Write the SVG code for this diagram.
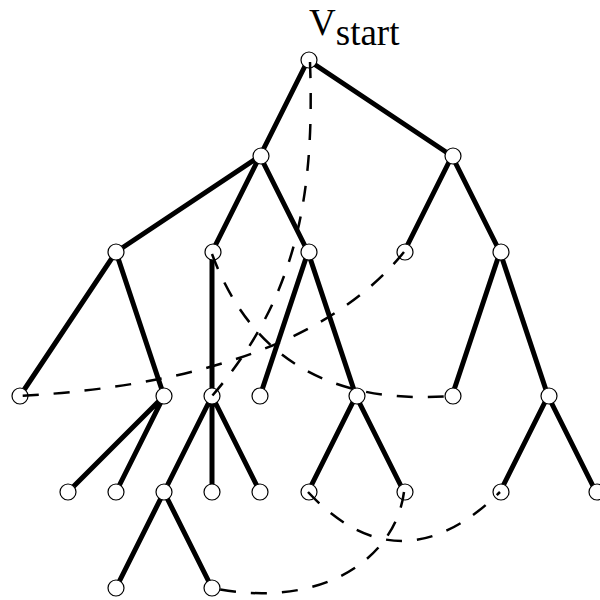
<svg xmlns="http://www.w3.org/2000/svg" width="600" height="600" viewBox="0 0 600 600">
<style>
.e{stroke:#000;stroke-width:5;fill:none;stroke-linecap:butt}
.d{stroke:#000;stroke-width:2.5;fill:none;stroke-dasharray:16 15}
.n{fill:#fff;stroke:#000;stroke-width:1.2}
.t{font-family:"Liberation Serif","Times New Roman",serif;font-size:37px;fill:#000}
</style>
<rect width="600" height="600" fill="#fff"/>
<text class="t" x="309" y="35">V<tspan dy="10">start</tspan></text>
<g id="edges">
<path class="e" d="M308,60L260,156M308,60L452,156M260,156L116,252M260,156L212,252M260,156L308,252M452,156L404,252M452,156L500,252M116,252L20,396M116,252L164,396M212,252L212,396M308,252L260,396M308,252L356,396M500,252L452,396M500,252L548,396M164,396L68,492M164,396L116,492M212,396L164,492M212,396L212,492M212,396L260,492M356,396L308,492M356,396L404,492M548,396L500,492M548,396L596,492M164,492L116,588M164,492L212,588"/>
</g>
<g id="n0"><circle class="n" cx="309" cy="60" r="8"/></g>
<g id="n1"><circle class="n" cx="261" cy="156" r="8"/></g>
<g id="n2"><circle class="n" cx="453" cy="156" r="8"/></g>
<g id="n3"><circle class="n" cx="116" cy="252" r="8"/></g>
<g id="n4"><circle class="n" cx="213" cy="252" r="8"/></g>
<g id="n5"><circle class="n" cx="309" cy="252" r="8"/></g>
<g id="n6"><circle class="n" cx="405" cy="252" r="8"/></g>
<g id="n7"><circle class="n" cx="501" cy="252" r="8"/></g>
<g id="n8"><circle class="n" cx="20" cy="396" r="8"/></g>
<g id="n9"><circle class="n" cx="164" cy="396" r="8"/></g>
<g id="n10"><circle class="n" cx="212" cy="396" r="8"/></g>
<g id="n11"><circle class="n" cx="260" cy="396" r="8"/></g>
<g id="n12"><circle class="n" cx="357" cy="396" r="8"/></g>
<g id="n13"><circle class="n" cx="453" cy="396" r="8"/></g>
<g id="n14"><circle class="n" cx="549" cy="396" r="8"/></g>
<g id="n15"><circle class="n" cx="68" cy="492" r="8"/></g>
<g id="n16"><circle class="n" cx="116" cy="492" r="8"/></g>
<g id="n17"><circle class="n" cx="164" cy="492" r="8"/></g>
<g id="n18"><circle class="n" cx="212" cy="492" r="8"/></g>
<g id="n19"><circle class="n" cx="260" cy="492" r="8"/></g>
<g id="n20"><circle class="n" cx="309" cy="492" r="8"/></g>
<g id="n21"><circle class="n" cx="405" cy="492" r="8"/></g>
<g id="n22"><circle class="n" cx="501" cy="492" r="8"/></g>
<g id="n23"><circle class="n" cx="597" cy="492" r="8"/></g>
<g id="n24"><circle class="n" cx="116" cy="588" r="8"/></g>
<g id="n25"><circle class="n" cx="212" cy="588" r="8"/></g>
<g id="dashed">
<path class="d" d="M310,62C315,200 295,300 212,396"/>
<path class="d" d="M404,252Q300,380 20,396"/>
<path class="d" d="M212,254Q270,410 452,396"/>
<path class="d" d="M308,492Q400,590 500,492"/>
<path class="d" d="M404,492C395,560 320,610 212,588"/>
</g>
</svg>
